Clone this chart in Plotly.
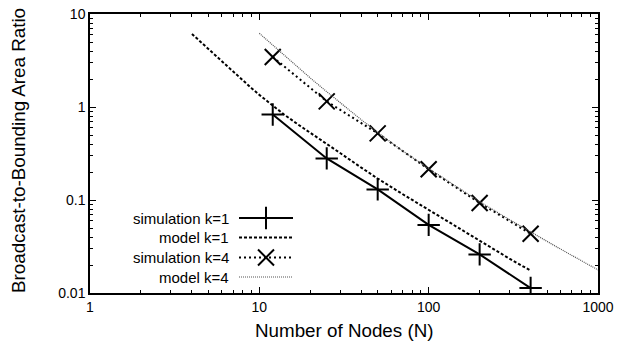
import plotly.graph_objects as go

# ---- data ----
sim_N = [12, 25, 50, 100, 200, 400]
sim_k1 = [0.83, 0.28, 0.13, 0.054, 0.026, 0.0113]
sim_k4 = [3.45, 1.15, 0.52, 0.214, 0.093, 0.0433]

model_k1_N = [4, 5, 6, 7, 8, 9, 10, 11, 12, 14, 17, 20, 25, 30, 40, 50, 70, 100, 150, 200, 300, 400]
model_k1 = [6.1, 4.2, 3.09, 2.4, 1.93, 1.59, 1.35, 1.17, 1.03, 0.83, 0.645, 0.53, 0.40, 0.32,
            0.223, 0.17, 0.116, 0.078, 0.050, 0.0363, 0.0234, 0.0174]

model_k4_N = [10, 12, 15, 20, 25, 30, 40, 50, 70, 100, 150, 200, 300, 400, 600, 800, 1000]
model_k4 = [6.2, 4.61, 3.23, 2.05, 1.46, 1.11, 0.73, 0.533, 0.338, 0.218, 0.134, 0.096,
            0.0615, 0.0452, 0.0297, 0.0222, 0.0177]

x_tickvals = [1, 10, 100, 1000]
x_ticktext = ["1", "10", "100", "1000"]
y_tickvals = [0.01, 0.1, 1, 10]
y_ticktext = ["0.01", "0.1", "1", "10"]

x_title = "Number of Nodes (N)"
y_title = "Broadcast-to-Bounding Area Ratio"
legend_names = ["simulation k=1", "model k=1", "simulation k=4", "model k=4"]

FONT = "Liberation Sans, Arial, sans-serif"

# minor (log) tick positions: 2..9 within each decade
x_minor = [m * d for d in (1, 10, 100) for m in range(2, 10)]
y_minor = [m * d for d in (0.01, 0.1, 1) for m in range(2, 10)]

styles = [
    dict(line=dict(color="black", width=2, dash="solid"),
         marker=dict(symbol="cross-thin", size=16, line=dict(color="black", width=2))),
    dict(line=dict(color="black", width=2, dash="3px,2px")),
    dict(line=dict(color="black", width=2, dash="2px,3px"),
         marker=dict(symbol="x-thin", size=16, line=dict(color="black", width=2))),
    dict(line=dict(color="#555555", width=1.2, dash="1px,1px")),
]

fig = go.Figure()

fig.add_trace(go.Scatter(x=sim_N, y=sim_k1, mode="lines+markers", name=legend_names[0],
                         showlegend=False, **styles[0]))
fig.add_trace(go.Scatter(x=model_k1_N, y=model_k1, mode="lines", name=legend_names[1],
                         showlegend=False, **styles[1]))
fig.add_trace(go.Scatter(x=sim_N, y=sim_k4, mode="lines+markers", name=legend_names[2],
                         showlegend=False, **styles[2]))
fig.add_trace(go.Scatter(x=model_k4_N, y=model_k4, mode="lines", name=legend_names[3],
                         showlegend=False, **styles[3]))

# ---- layout geometry (pixels) ----
W, H = 618, 346
L, R, T, B = 90, 20, 14, 53
pw, ph = W - L - R, H - T - B

def px2x(px):
    return (px - L) / pw

def py2y(py):
    return (H - B - py) / ph

# ---- custom legend (text left, sample right) on an overlay unit axis ----
leg_rows = [218, 237.5, 257.5, 277]
sample_x0, sample_x1 = 239, 293
text_right = 231
for i, name in enumerate(legend_names):
    yy = py2y(leg_rows[i])
    st = styles[i]
    fig.add_trace(go.Scatter(
        x=[px2x(sample_x0), px2x(sample_x1)], y=[yy, yy], mode="lines",
        line=st["line"], xaxis="x2", yaxis="y2", showlegend=False, hoverinfo="skip"))
    if "marker" in st:
        fig.add_trace(go.Scatter(
            x=[px2x((sample_x0 + sample_x1) / 2)], y=[yy], mode="markers",
            marker=st["marker"], xaxis="x2", yaxis="y2", showlegend=False, hoverinfo="skip"))
    fig.add_annotation(x=px2x(text_right), y=yy, xref="paper", yref="paper", text=name,
                       showarrow=False, xanchor="right", yanchor="middle",
                       font=dict(family=FONT, size=15, color="black"))

# ---- axis titles as annotations for exact placement ----
fig.add_annotation(x=px2x(344), y=py2y(330), xref="paper", yref="paper", text=x_title,
                   showarrow=False, xanchor="center", yanchor="middle",
                   font=dict(family=FONT, size=18.8, color="black"))
fig.add_annotation(x=px2x(18), y=py2y(151), xref="paper", yref="paper", text=y_title,
                   showarrow=False, xanchor="center", yanchor="middle", textangle=-90,
                   font=dict(family=FONT, size=18.8, color="black"))

def axis_common(minor_vals):
    return dict(
        type="log", showline=True, linecolor="black", linewidth=1.5, mirror="ticks",
        ticks="inside", ticklen=6, tickwidth=1, tickcolor="black", showgrid=False,
        zeroline=False, tickfont=dict(family=FONT, size=14, color="black"),
        minor=dict(ticks="inside", ticklen=3, tickwidth=1, tickcolor="black", showgrid=False,
                   tickmode="array", tickvals=minor_vals),
    )

fig.update_layout(
    width=W, height=H,
    margin=dict(l=L, r=R, t=T, b=B, autoexpand=False),
    paper_bgcolor="white", plot_bgcolor="white",
    font=dict(family=FONT, color="black"),
    xaxis=dict(range=[0, 3], tickmode="array", tickvals=x_tickvals, ticktext=x_ticktext,
               **axis_common(x_minor)),
    yaxis=dict(range=[-2, 1], tickmode="array", tickvals=y_tickvals, ticktext=y_ticktext,
               **axis_common(y_minor)),
    xaxis2=dict(range=[0, 1], overlaying="x", visible=False, fixedrange=True),
    yaxis2=dict(range=[0, 1], overlaying="y", visible=False, fixedrange=True),
    showlegend=False,
)

fig.write_html("out.html")
